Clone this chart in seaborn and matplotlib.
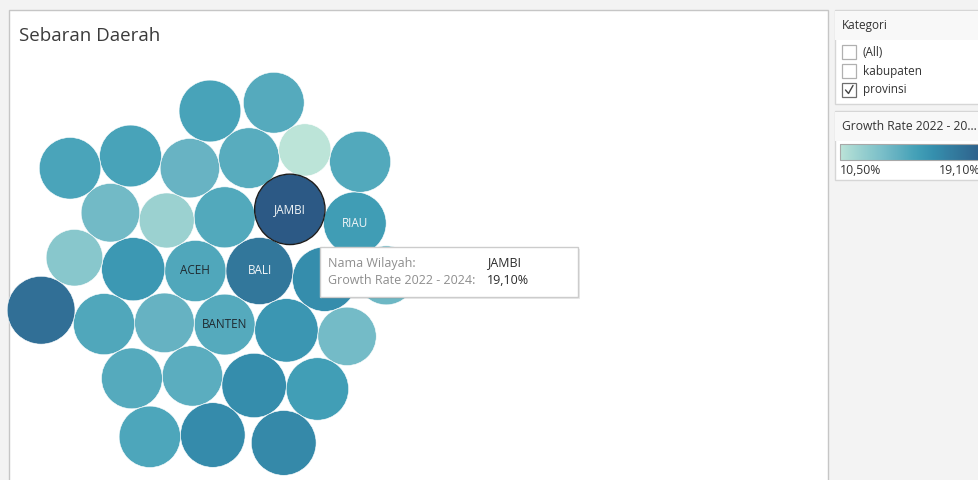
import numpy as np
import pandas as pd
import seaborn as sns
import matplotlib
matplotlib.use("Agg")
import matplotlib.pyplot as plt
from matplotlib.colors import LinearSegmentedColormap
from matplotlib.patches import Rectangle

# Province bubbles, in the order the packing lays them out
provinces = [
    "ACEH", "BALI", "BANTEN", "BENGKULU", "DI YOGYAKARTA", "DKI JAKARTA",
    "GORONTALO", "JAMBI", "JAWA BARAT", "JAWA TENGAH", "JAWA TIMUR",
    "KALIMANTAN BARAT", "KALIMANTAN SELATAN", "KALIMANTAN TENGAH",
    "KALIMANTAN TIMUR", "KEPULAUAN BANGKA BELITUNG", "RIAU",
    "KEPULAUAN RIAU", "LAMPUNG", "MALUKU", "MALUKU UTARA",
    "NUSA TENGGARA BARAT", "NUSA TENGGARA TIMUR", "PAPUA", "PAPUA BARAT",
    "SULAWESI SELATAN", "SULAWESI TENGAH", "SULAWESI TENGGARA",
    "SULAWESI UTARA", "SUMATERA BARAT", "SUMATERA SELATAN", "SUMATERA UTARA",
]
# Growth Rate 2022 - 2024 (%)
growth = [
    14.43, 17.30, 14.25, 14.34, 13.69, 11.66,
    15.49, 19.10, 15.39, 15.98, 13.60,
    14.06, 15.98, 14.15,
    13.23, 14.43, 15.10,
    13.14, 14.25, 15.01, 14.72,
    10.50, 12.35, 14.72, 13.41,
    16.08, 14.34, 14.25,
    16.18, 14.53, 17.72, 14.62,
]
labelled = ["ACEH", "BALI", "BANTEN", "JAMBI", "RIAU"]
hovered = "JAMBI"

kategori_options = ["(All)", "kabupaten", "provinsi"]
kategori_checked = [False, False, True]
rate_min, rate_max = 10.50, 19.10

blue_teal = ['#bce4d8', '#aedcd5', '#a1d5d2', '#95cecf', '#89c8cc', '#7ec1ca',
             '#72bac6', '#66b2c2', '#59acbe', '#4ba5ba', '#419eb6', '#3b96b2',
             '#358ead', '#3586a7', '#347ea1', '#32779b', '#316f96', '#2f6790',
             '#2d608a', '#2c5985']
cmap = LinearSegmentedColormap.from_list("blue_teal", blue_teal)


def fmt_pct(v):
    return f"{v:.2f}%".replace(".", ",")


# ---------------------------------------------------------------- packing
R_MAX = 35.2  # radius in px of the largest value; area is proportional to value


def radius(v):
    return R_MAX * np.sqrt(v / rate_max)


def best_spot(P, rad, r):
    """Position tangent to two placed circles, free of overlap, nearest the origin."""
    n = len(P)
    I, J = np.triu_indices(n, 1)
    pi, pj = P[I], P[J]
    ri, rj = rad[I] + r, rad[J] + r
    d = np.linalg.norm(pj - pi, axis=1)
    ok = (d < ri + rj) & (d > np.abs(ri - rj)) & (d > 0)
    pi, pj, ri, rj, d = pi[ok], pj[ok], ri[ok], rj[ok], d[ok]
    a = (ri ** 2 - rj ** 2 + d ** 2) / (2 * d)
    h = np.sqrt(np.maximum(ri ** 2 - a ** 2, 0))
    u = (pj - pi) / d[:, None]
    base = pi + a[:, None] * u
    perp = np.stack([-u[:, 1], u[:, 0]], axis=1)
    cands = np.vstack([base + h[:, None] * perp, base - h[:, None] * perp])
    dd = np.linalg.norm(cands[:, None, :] - P[None, :, :], axis=2)
    cands = cands[np.all(dd >= rad[None, :] + r - 1e-6, axis=1)]
    return cands[np.argmin(np.linalg.norm(cands, axis=1))]


def pack(values):
    rad = np.array([radius(v) for v in values])
    P = [np.array([-rad[0], 0.0]), np.array([rad[1], 0.0])]
    for k in range(2, len(values)):
        P.append(best_spot(np.array(P), rad[:k], rad[k]))
    return np.array(P), rad


pos, rad = pack(growth)
ORIGIN = (226.0, 271.0)  # where the packing centre sits in the view
df = pd.DataFrame({
    "wilayah": provinces,
    "growth": growth,
    "x": pos[:, 0] + ORIGIN[0],
    "y": pos[:, 1] + ORIGIN[1],
})

# ---------------------------------------------------------------- figure
sns.set_theme(style="white")
plt.rcParams['font.family'] = ['Open Sans', 'DejaVu Sans']

W, H = 979, 480
fig = plt.figure(figsize=(W / 100, H / 100), dpi=100, facecolor='#f3f3f3')
ax = fig.add_axes([0, 0, 1, 1])
ax.set_facecolor('#f3f3f3')

# main sheet
ax.add_patch(Rectangle((9, 10), 819, 480, fc='white', ec='#c6c6c6', lw=1.0, zorder=1))
ax.text(19, 36, "Sebaran Daerah", fontsize=13.5, color='#3b3b3b', va='center', ha='left',
        zorder=2)

px2pt = 72 / 100


def marker_area(v):
    return (2 * radius(v) * px2pt) ** 2


sns.scatterplot(data=df, x="x", y="y", hue="growth", palette=cmap,
                hue_norm=(rate_min, rate_max), size="growth",
                sizes=(marker_area(rate_min), marker_area(rate_max)),
                size_norm=(rate_min, rate_max), linewidth=0.4, edgecolor='white',
                legend=False, ax=ax, zorder=3)

hov = df[df["wilayah"] == hovered]
ax.scatter(hov["x"], hov["y"], s=[marker_area(v) for v in hov["growth"]],
           facecolors='none', edgecolors='#1c1c1c', linewidths=1.0, zorder=4)

for _, row in df[df["wilayah"].isin(labelled)].iterrows():
    col = '#f2f6f8' if row["growth"] > 15 else '#1f2a30'
    ax.text(row["x"], row["y"], row["wilayah"], fontsize=8.5, color=col,
            ha='center', va='center', zorder=5)

# tooltip for the hovered province
tip_x, tip_y, tip_w, tip_h = 320, 247, 258, 50
ax.add_patch(Rectangle((tip_x + 2, tip_y + 2), tip_w, tip_h, fc='#000000', alpha=0.08,
                       ec='none', zorder=6))
ax.add_patch(Rectangle((tip_x, tip_y), tip_w, tip_h, fc='white', ec='#cccccc', lw=1.0,
                       zorder=7))
ax.text(tip_x + 8, 263, "Nama Wilayah:", fontsize=9, color='#8e8e8e', va='center', zorder=8)
ax.text(tip_x + 8, 281, "Growth Rate 2022 - 2024:", fontsize=9, color='#8e8e8e',
        va='center', zorder=8)
ax.text(tip_x + 167, 263, hov["wilayah"].iloc[0], fontsize=9, color='#2b2b2b',
        va='center', zorder=8)
ax.text(tip_x + 167, 281, fmt_pct(hov["growth"].iloc[0]), fontsize=9, color='#2b2b2b',
        va='center', zorder=8)

# filter card
ax.add_patch(Rectangle((835, 10), 160, 94, fc='white', ec='#d6d6d6', lw=1.0, zorder=1))
ax.add_patch(Rectangle((835.5, 10.5), 159, 29, fc='#f8f8f8', ec='none', zorder=1.5))
ax.text(842, 25, "Kategori", fontsize=8.5, color='#333333', va='center', zorder=2)
for i, (opt, chk) in enumerate(zip(kategori_options, kategori_checked)):
    cy = 52 + i * 19
    ax.add_patch(Rectangle((842, cy - 7), 14, 14, fc='white',
                           ec='#6e6e6e' if chk else '#b0b0b0', lw=0.9, zorder=2))
    if chk:
        ax.plot([845.5, 848.5, 853], [cy, cy + 3.5, cy - 4.5], color='#444444', lw=1.0,
                zorder=3)
    ax.text(863, cy, opt, fontsize=8.5, color='#333333', va='center', zorder=2)

# colour legend card
ax.add_patch(Rectangle((835, 111), 160, 69, fc='white', ec='#d6d6d6', lw=1.0, zorder=1))
ax.add_patch(Rectangle((835.5, 111.5), 159, 29, fc='#f8f8f8', ec='none', zorder=1.5))
ax.text(842, 127, "Growth Rate 2022 - 20...", fontsize=8.7, color='#333333', va='center',
        zorder=2)
grad = np.linspace(0, 1, 256)[None, :]
ax.imshow(grad, cmap=cmap, extent=(840, 990, 160, 144), aspect='auto', zorder=2)
ax.add_patch(Rectangle((840, 144), 150, 16, fc='none', ec='#a8a8a8', lw=0.8, zorder=3))
ax.text(840, 170, fmt_pct(rate_min), fontsize=8.8, color='#333333', va='center', zorder=2)
ax.text(939, 170, fmt_pct(rate_max), fontsize=8.8, color='#333333', va='center', zorder=2)

ax.set_xlim(0, W)
ax.set_ylim(H, 0)
ax.axis('off')
fig.savefig('out.png', dpi=100, facecolor=fig.get_facecolor())
